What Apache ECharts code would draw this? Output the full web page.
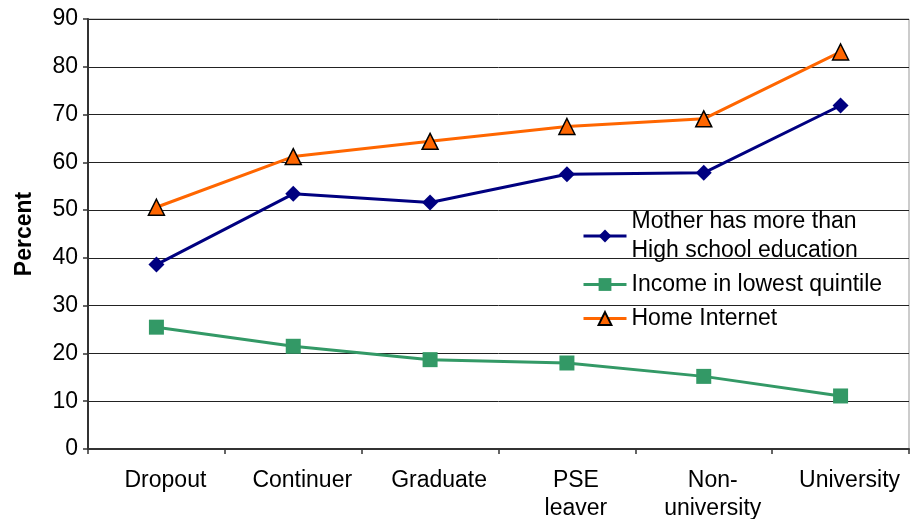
<!DOCTYPE html>
<html>
<head>
<meta charset="utf-8">
<script src="https://cdn.jsdelivr.net/npm/echarts@6/dist/echarts.min.js"></script>
<style>
  html, body { margin: 0; padding: 0; background: #fff; }
  #chart { width: 911px; height: 519px; }
</style>
</head>
<body>
<div id="chart"></div>
<script>
// Student groups along the horizontal axis
const categories = ['Dropout', 'Continuer', 'Graduate', 'PSE\nleaver', 'Non-\nuniversity', 'University'];

// Share of each group (percent)
const motherEducation = [38.6, 53.4, 51.6, 57.5, 57.8, 71.9];
const lowIncome = [25.5, 21.5, 18.7, 18.0, 15.2, 11.1];
const homeInternet = [50.6, 61.2, 64.4, 67.5, 69.1, 83.1];

const yTicks = { min: 0, max: 90, interval: 10 };

const font = 'Liberation Sans, Arial, sans-serif';

const chart = echarts.init(document.getElementById('chart'), null, { renderer: 'canvas' });

chart.setOption({
  backgroundColor: '#fff',
  animation: false,
  grid: {
    left: 88, right: 2, top: 19, bottom: 70,
    outerBoundsMode: 'none',
    containLabel: false,
    show: true, borderColor: '#999', borderWidth: 1
  },
  legend: {
    orient: 'vertical',
    left: 577, top: 202,
    itemWidth: 43, itemHeight: 16, itemGap: 5,
    lineStyle: { width: 3 },
    textStyle: { fontFamily: font, fontSize: 23, color: '#000', lineHeight: 29 },
    formatter: function (name) {
      return name === 'Mother has more than High school education'
        ? 'Mother has more than\nHigh school education' : name;
    },
    data: ['Mother has more than High school education', 'Income in lowest quintile', 'Home Internet']
  },
  xAxis: {
    type: 'category',
    data: categories,
    boundaryGap: true,
    axisLine: { lineStyle: { color: '#333', width: 2 } },
    axisTick: { show: true, length: 5, lineStyle: { color: '#333', width: 1.5 } },
    axisLabel: {
      fontFamily: font, fontSize: 23, color: '#000', margin: 18, lineHeight: 28,
      interval: 0, padding: [0, 0, 0, 18]
    }
  },
  yAxis: {
    type: 'value',
    min: yTicks.min, max: yTicks.max, interval: yTicks.interval,
    name: 'Percent',
    nameLocation: 'middle',
    nameGap: 52,
    nameTextStyle: { fontFamily: font, fontSize: 23, fontWeight: 'bold', color: '#000' },
    axisLine: { show: true, lineStyle: { color: '#333', width: 2 } },
    axisTick: { show: true, length: 5, lineStyle: { color: '#333', width: 1.5 } },
    axisLabel: { fontFamily: font, fontSize: 23, color: '#000', margin: 10 },
    splitLine: { show: true, lineStyle: { color: '#222', width: 1 } }
  },
  series: [
    {
      name: 'Mother has more than High school education',
      type: 'line',
      data: motherEducation,
      symbol: 'diamond',
      symbolSize: 16,
      lineStyle: { color: '#000080', width: 3 },
      itemStyle: { color: '#000080' }
    },
    {
      name: 'Income in lowest quintile',
      type: 'line',
      data: lowIncome,
      symbol: 'rect',
      symbolSize: 15,
      lineStyle: { color: '#339966', width: 3 },
      itemStyle: { color: '#339966' }
    },
    {
      name: 'Home Internet',
      type: 'line',
      data: homeInternet,
      symbol: 'triangle',
      symbolSize: 16,
      lineStyle: { color: '#ff6600', width: 3 },
      itemStyle: { color: '#ff6600', borderColor: '#000', borderWidth: 1.5 }
    }
  ]
});
</script>
</body>
</html>
